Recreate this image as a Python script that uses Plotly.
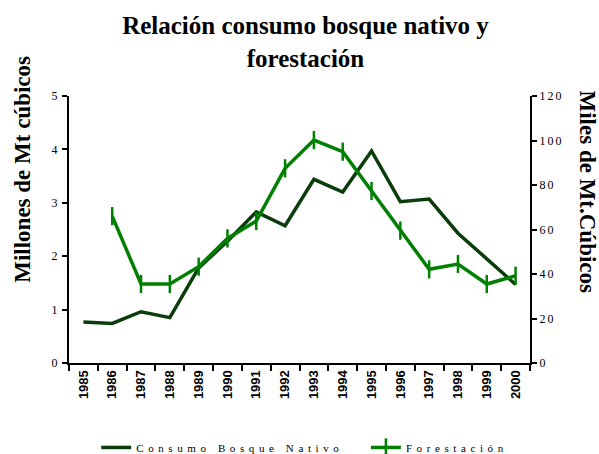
import plotly.graph_objects as go

years = ["1985", "1986", "1987", "1988", "1989", "1990", "1991", "1992",
         "1993", "1994", "1995", "1996", "1997", "1998", "1999", "2000"]
consumo_nativo = [0.77, 0.74, 0.96, 0.85, 1.78, 2.28, 2.83, 2.57,
                  3.44, 3.20, 3.97, 3.02, 3.07, 2.43, 1.95, 1.47]
forestacion = [None, 66, 35.5, 35.5, 43.3, 56, 63.8, 87.5,
               100.2, 95, 77.3, 59.5, 42.1, 44.5, 35.5, 39.2]

title_text = "<b>Relación consumo bosque nativo y<br>forestación</b>"
left_title = "<b>Millones de Mt cúbicos</b>"
right_title = "<b>Miles de Mt.Cúbicos</b>"

serif = "Liberation Serif"
dark = "#0b3d0b"
green = "#008000"

fig = go.Figure()
fig.add_trace(go.Scatter(
    x=years, y=consumo_nativo, name="Consumo Bosque Nativo",
    mode="lines", line=dict(color=dark, width=3.5), yaxis="y", legend="legend"))
fig.add_trace(go.Scatter(
    x=years, y=forestacion, name="Forestación",
    mode="lines+markers", line=dict(color=green, width=3.5),
    marker=dict(symbol="line-ns", size=13, line=dict(color=green, width=2.5)),
    yaxis="y2", connectgaps=False, legend="legend2"))

legend_common = dict(orientation="h", yanchor="top", xanchor="left",
                     font=dict(family=serif, size=11, color="black"),
                     bgcolor="rgba(0,0,0,0)")

fig.update_layout(
    width=599, height=454,
    margin=dict(l=69, r=69, t=96, b=91, autoexpand=False),
    paper_bgcolor="white", plot_bgcolor="white",
    title=dict(text=title_text, x=0.51, xanchor="center", y=0.925, yanchor="middle",
               yref="container",
               font=dict(family=serif, size=25, color="black")),
    font=dict(family=serif, color="black"),
    showlegend=True,
    legend=dict(x=0.059, y=-0.262, **legend_common),
    legend2=dict(x=0.644, y=-0.262, **legend_common),
    xaxis=dict(type="category", range=[-0.5, 15.5], tickson="boundaries",
               showline=True, linecolor="black", linewidth=2,
               ticks="outside", ticklen=6, tickwidth=2, tickcolor="black",
               tickangle=-90, showgrid=False, zeroline=False,
               tickfont=dict(family="Liberation Sans", size=13, color="black")),
    yaxis=dict(range=[0, 5], dtick=1, showline=True, linecolor="black", linewidth=2,
               ticks="outside", ticklen=5, tickwidth=2, tickcolor="black",
               showgrid=False, zeroline=False,
               tickfont=dict(family=serif, size=12, color="black")),
    yaxis2=dict(range=[0, 120], dtick=20, overlaying="y", side="right",
                showline=True, linecolor="black", linewidth=2,
                ticks="outside", ticklen=5, tickwidth=2, tickcolor="black",
                showgrid=False, zeroline=False,
                tickfont=dict(family=serif, size=12, color="black")),
    annotations=[
        dict(text=left_title, xref="paper", yref="paper", x=-0.1, y=0.727,
             xanchor="center", yanchor="middle", textangle=-90, showarrow=False,
             font=dict(family=serif, size=23, color="black")),
        dict(text=right_title, xref="paper", yref="paper", x=1.125, y=0.64,
             xanchor="center", yanchor="middle", textangle=90, showarrow=False,
             font=dict(family=serif, size=23, color="black")),
    ],
)

# make x tick labels bold
fig.update_xaxes(tickprefix="<b>", ticksuffix="</b>")

post = """
var st = document.createElement('style');
st.innerHTML = 'html,body{margin:0 !important;padding:0 !important;} text.legendtext{letter-spacing:4.6px !important;} .ytick text, .y2tick text {letter-spacing:2px;}';
document.head.appendChild(st);
function fixLegends(){
  document.querySelectorAll('.infolayer g[class^="legend"] text, text.legendtext').forEach(function(e){
    e.style.letterSpacing='4.6px'; e.setAttribute('letter-spacing','4.6');});
  document.querySelectorAll('.infolayer g[class^="legend"], .infolayer g[class^="legend"] g').forEach(function(e){e.removeAttribute('clip-path');});
}
fixLegends();
setTimeout(fixLegends, 50);
setTimeout(fixLegends, 300);
setTimeout(fixLegends, 1000);
"""
fig.write_html("out.html", post_script=post, config={"displayModeBar": False})
